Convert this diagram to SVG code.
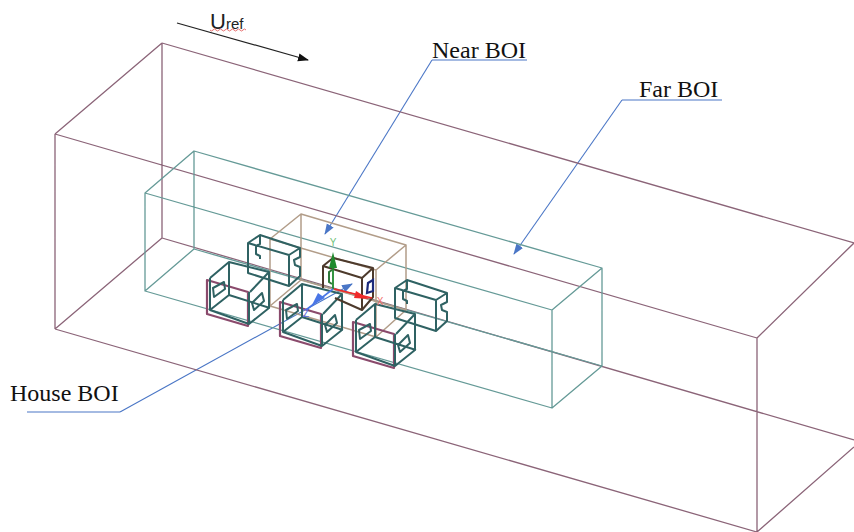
<svg xmlns="http://www.w3.org/2000/svg" width="854" height="532" viewBox="0 0 854 532">
<style>
.box{fill:none;stroke-width:1.3;stroke-linejoin:round}
.outer{stroke:#8b6478}
.far{stroke:#659a97}
.near{stroke:#b29d89;stroke-width:1.5}
.teal{fill:none;stroke:#2f6263;stroke-width:2;stroke-linejoin:round}
.brown{fill:none;stroke:#4d3a2c;stroke-width:2;stroke-linejoin:round}
.mar{fill:none;stroke:#8a4a6c;stroke-width:2.2;stroke-linejoin:round}
.lead{fill:none;stroke:#4a76c6;stroke-width:1.1}
.lab{font-family:"Liberation Serif","Times New Roman",serif;font-size:24px;fill:#111}
.sans{font-family:"Liberation Sans",Arial,sans-serif;fill:#222}
</style>
<defs>
<marker id="ab" markerWidth="12" markerHeight="10" refX="10" refY="4" orient="auto" markerUnits="userSpaceOnUse"><path d="M0,0L11,4L0,8Z" fill="#4a76c6"/></marker>
<marker id="ak" markerWidth="12" markerHeight="10" refX="10" refY="4" orient="auto" markerUnits="userSpaceOnUse"><path d="M0,0L11,4L0,8Z" fill="#111"/></marker>
<g id="tA">
<path d="M0,0L41,12L41,46L0,34Z" class="mar"/>
<path class="teal" d="M3,-2L22,-18L62,-8L43,12M3,-2V30L22,15L63,28M3,30L42,44V12M22,-18V15M62,-8V28L42,44M6,8L17,2L18,9L7,17ZM45,23L55,13L57,21L47,30Z"/>
</g>
<path id="tB" d="M0,0L12,-8L52,5L41,12ZM0,0V30L41,43L52,33V24L47,22L46,17L52,14V5M41,12V43M12,-8V1L8,3V11L12,13V16"/>
</defs>
<g id="connectors">
<path class="lead" d="M432,60L325,234" marker-end="url(#ab)"/>
<path class="lead" d="M622,100L514,254" marker-end="url(#ab)"/>
<path class="lead" d="M120,412L352,284" marker-end="url(#ab)"/>
<path class="lead" d="M432,60H527M622,100H722M27,412H120"/>
<path d="M177,23L308,60" fill="none" stroke="#222" stroke-width="1.2" marker-end="url(#ak)"/>
</g>
<g id="outer-box" class="box outer">
<path d="M162,43L854,243M55,134L757,338M55,134L162,43M757,338L854,243M55,134V329M757,338V532M162,43V238M55,329L757,532M55,329L162,238L854,440M757,532L854,447"/>
</g>
<g id="far-boi" class="box far">
<path d="M194,151L602,268L552,310L145,193ZM145,193V291L552,408V310M602,268V366L552,408M145,291L194,249L602,366M194,151V249"/>
</g>
<g id="near-boi" class="box near">
<path d="M301,214L406,245L376,270L270,239ZM270,239V306L376,337V270M406,245V310L376,337M270,306L301,280L406,310M301,214V280"/>
</g>
<g id="house-1"><use href="#tB" x="248" y="243" class="teal"/></g>
<g id="house-2"><use href="#tB" x="395" y="288" class="teal"/></g>
<g id="house-3"><use href="#tA" x="207" y="280"/></g>
<g id="house-4"><use href="#tA" x="280" y="302"/></g>
<g id="house-5"><use href="#tA" x="353" y="322"/></g>
<g id="house-center">
<path class="brown" d="M323,266L333,258L373,268L362,278ZM323,266V288M335,298L362,310L373,297V268M362,278V310"/>
<path d="M332,270L329,272V282L332,284" fill="none" stroke="#2f7a3a" stroke-width="2"/>
<path d="M368,283L373,280V291L367,293Z" fill="none" stroke="#1c2a7a" stroke-width="2.2"/>
</g>
<g id="axes">
<path d="M333,289V260" stroke="#1f8a2e" stroke-width="1.8"/>
<path d="M333,252L337,268H329Z" fill="#1f8a2e"/>
<path d="M334,289L372,298" stroke="#f02a2a" stroke-width="1.6"/>
<path d="M369,299L354,298L356,291Z" fill="#f02a2a"/>
<path d="M333,289L306,310" stroke="#4a76e6" stroke-width="1.6"/>
<path d="M312,305L318,293L325,298Z" fill="#4a76e6"/>
<text x="333" y="246" class="sans" font-size="10" text-anchor="middle" style="fill:#6fc27a">Y</text>
<text x="380" y="305" class="sans" font-size="10" text-anchor="middle" style="fill:#f06a6a">X</text>
<text x="306" y="317" class="sans" font-size="10" text-anchor="middle" style="fill:#5a6ae6">Z</text>
</g>
<g id="labels">
<text x="432" y="58" class="lab">Near BOI</text>
<text x="639" y="97" class="lab">Far BOI</text>
<text x="10" y="401" class="lab">House BOI</text>
<text x="210" y="29" class="sans" font-size="22">U<tspan font-size="15">ref</tspan></text>
<path d="M210,30q1.5,2 3,0t3,0t3,0t3,0t3,0t3,0t3,0t3,0t3,0t3,0t3,0t3,0" fill="none" stroke="#e04a4a" stroke-width=".8"/>
</g>
</svg>
